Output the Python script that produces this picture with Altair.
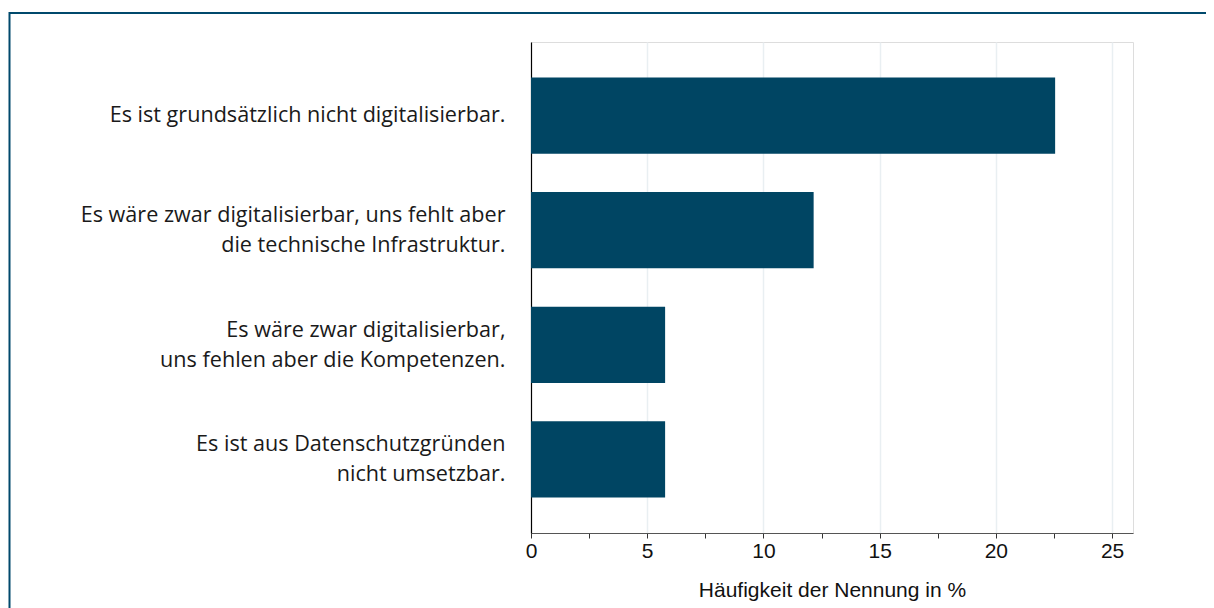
import altair as alt
import pandas as pd

categories = [
    "Es ist grundsätzlich nicht digitalisierbar.",
    "Es wäre zwar digitalisierbar, uns fehlt aber\ndie technische Infrastruktur.",
    "Es wäre zwar digitalisierbar,\nuns fehlen aber die Kompetenzen.",
    "Es ist aus Datenschutzgründen\nnicht umsetzbar.",
]
values = [22.55, 12.16, 5.77, 5.77]
x_ticks = [0, 2.5, 5, 7.5, 10, 12.5, 15, 17.5, 20, 22.5, 25]
x_title = "Häufigkeit der Nennung in %"

df = pd.DataFrame({"cat": categories, "val": values})

BAR = "#004563"
FRAME = "#00496c"

bars = alt.Chart(df).mark_bar(color=BAR).encode(
    y=alt.Y(
        "cat:N",
        sort=categories,
        title=None,
        scale=alt.Scale(paddingInner=0.335, paddingOuter=0.31),
        axis=alt.Axis(
            labelExpr="split(datum.label, '\\n')",
            labelFont="Open Sans",
            labelFontSize=21.6,
            labelLineHeight=30,
            labelColor="#1a1a1a",
            labelPadding=26,
            labelLimit=700,
            labelOffset={
                "condition": {"test": "indexof(datum.value, '\\n') >= 0", "value": -14},
                "value": 0,
            },
            ticks=False,
            domainColor="#000000",
            domainWidth=1.2,
            grid=False,
        ),
    ),
    x=alt.X(
        "val:Q",
        title=x_title,
        scale=alt.Scale(domain=[0, 25.9], nice=False),
        axis=alt.Axis(
            values=x_ticks,
            labelExpr="datum.value % 5 === 0 ? datum.label : ''",
            labelFont="Liberation Sans",
            labelFontSize=21,
            labelColor="#111111",
            labelPadding=2,
            labelFlush=False,
            labelOverlap=False,
            tickSize=5,
            tickColor="#333333",
            domainColor="#555555",
            domainWidth=1.2,
            titleFont="Liberation Sans",
            titleFontSize=21,
            titleFontWeight="normal",
            titleColor="#111111",
            titlePadding=18,
            grid=True,
            gridColor={
                "condition": {"test": "datum.value % 5 === 0 && datum.value > 0", "value": "#e9eff2"},
                "value": "transparent",
            },
            gridWidth=1.5,
        ),
    ),
)

frame = alt.Chart(pd.DataFrame({"a": [0]})).mark_rect(
    fillOpacity=0, stroke=FRAME, strokeWidth=2
).encode(
    x=alt.value(-521.5),
    x2=alt.value(720),
    y=alt.value(-29),
    y2=alt.value(620),
)

chart = alt.layer(bars, frame).properties(
    width=602,
    height=491,
    autosize=alt.AutoSizeParams(type="none"),
    padding={"left": 523, "top": 34, "right": 73, "bottom": 75},
).configure_view(stroke=None).configure(background="white")

chart.save("out.html", embed_options={"renderer": "svg", "actions": False})
